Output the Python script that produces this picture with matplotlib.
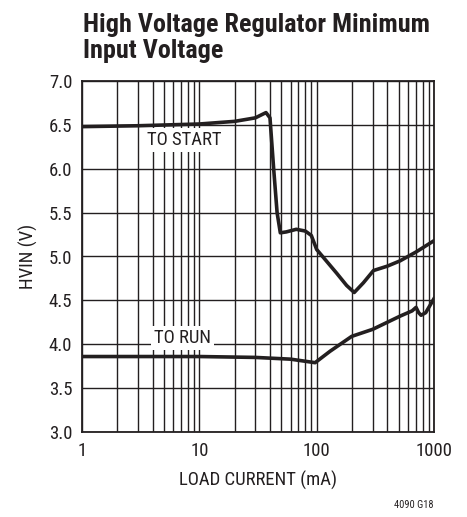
import matplotlib.pyplot as plt
import matplotlib.ticker as mticker
import numpy as np

# Curva "TO START" (mA, V)
start_i = [1, 3, 10, 20, 30, 37, 40, 43, 46, 49, 55, 67, 80, 90, 100, 148, 180, 209, 250, 305, 400, 513, 700, 1000]
start_v = [6.48, 6.49, 6.51, 6.54, 6.58, 6.64, 6.58, 6.0, 5.5, 5.27, 5.28, 5.31, 5.29, 5.24, 5.08, 4.81, 4.67, 4.59, 4.70, 4.84, 4.89, 4.95, 5.05, 5.18]

# Curva "TO RUN"
run_i = [1, 3, 10, 30, 60, 97, 130, 199, 300, 513, 650, 703, 740, 776, 850, 1000]
run_v = [3.86, 3.86, 3.86, 3.85, 3.83, 3.79, 3.92, 4.09, 4.17, 4.32, 4.38, 4.42, 4.36, 4.33, 4.36, 4.52]

yticks = [3.0, 3.5, 4.0, 4.5, 5.0, 5.5, 6.0, 6.5, 7.0]
xticks = [1, 10, 100, 1000]

plt.rcParams['font.family'] = ['Roboto Condensed', 'DejaVu Sans']
ink = '#231f20'

fig = plt.figure(figsize=(4.67, 5.17), dpi=100)
ax = fig.add_axes([82/467, 1 - 432/517, 352/467, 351/517])

ax.plot(start_i, start_v, color=ink, linewidth=2.6, zorder=3)
ax.plot(run_i, run_v, color=ink, linewidth=2.6, zorder=3)

ax.set_xscale('log')
ax.set_xlim(1, 1000)
ax.set_ylim(3.0, 7.0)
ax.set_yticks(yticks)
ax.set_yticklabels([f'{v:.1f}' for v in yticks])
ax.set_xticks(xticks)
ax.set_xticklabels([str(v) for v in xticks])
ax.xaxis.set_minor_locator(mticker.LogLocator(base=10, subs=np.arange(2, 10)))
ax.xaxis.set_minor_formatter(mticker.NullFormatter())
ax.tick_params(which='both', length=0, labelsize=13.5, colors=ink, pad=7)
ax.grid(True, which='both', color=ink, linewidth=1.0)
for s in ax.spines.values():
    s.set_color(ink)
    s.set_linewidth(1.3)

ax.set_xlabel('LOAD CURRENT (mA)', fontsize=13.5, color=ink, labelpad=8)
ax.set_ylabel('HVIN (V)', fontsize=13.5, color=ink, labelpad=8)

bbox = dict(facecolor='white', edgecolor='none', pad=2)
ax.text(7.4, 6.33, 'TO START', fontsize=13.5, ha='center', va='center', color=ink, bbox=bbox, zorder=2)
ax.text(7.2, 4.07, 'TO RUN', fontsize=13.5, ha='center', va='center', color=ink, bbox=bbox, zorder=2)

fig.text(83/467, 1 - 13/517, 'High Voltage Regulator Minimum\nInput Voltage', fontsize=18.8,
         fontweight='bold', ha='left', va='top', color=ink, linespacing=1.08)
fig.text(434/467, 1 - 505/517, '4090 G18', fontsize=7.5, ha='right', va='center', color=ink)

fig.savefig('out.png', dpi=100)
